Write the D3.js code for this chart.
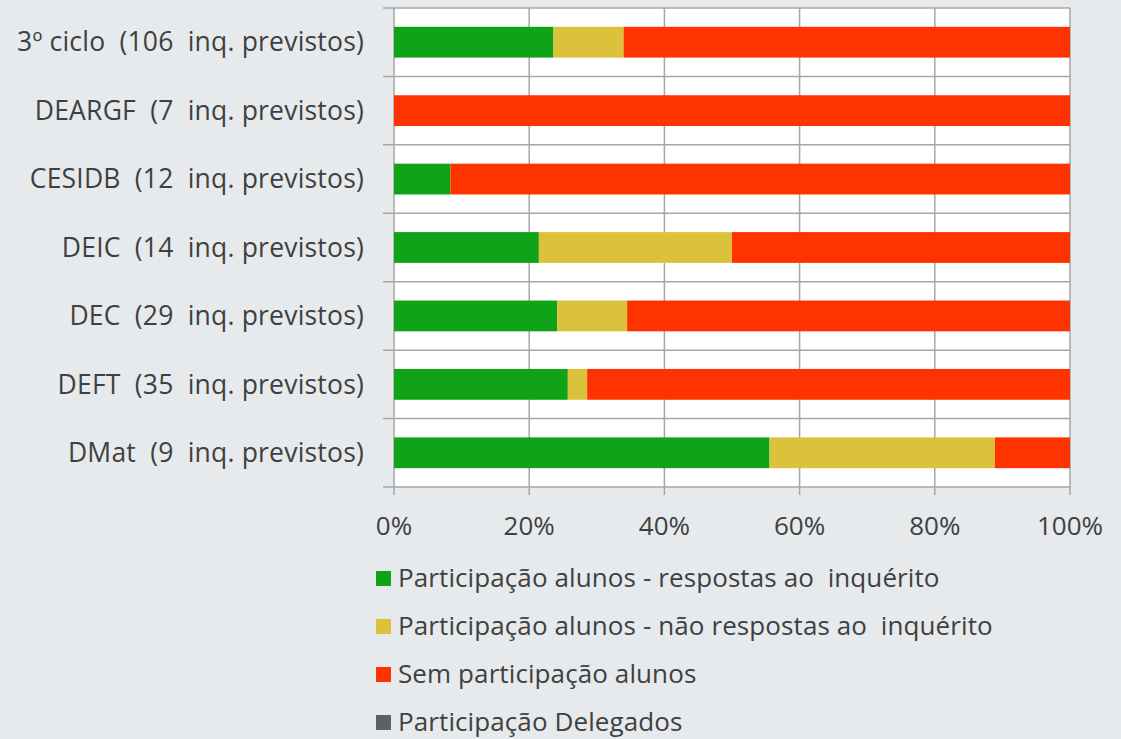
<!DOCTYPE html>
<html><head><meta charset="utf-8">
<script src="https://cdn.jsdelivr.net/npm/d3@7"></script>
<style>
html,body{margin:0;padding:0;background:#e7eaec;}
text{font-family:"Open Sans","Noto Sans",sans-serif;fill:#404040;white-space:pre;}
</style></head><body>
<svg id="c" width="1121" height="739"></svg>
<script>
const categories = ["3º ciclo  (106  inq. previstos)","DEARGF  (7  inq. previstos)","CESIDB  (12  inq. previstos)","DEIC  (14  inq. previstos)","DEC  (29  inq. previstos)","DEFT  (35  inq. previstos)","DMat  (9  inq. previstos)"];
const totals = [106,7,12,14,29,35,9];
const respostas = [25,0,1,3,7,9,5];
const naoRespostas = [11,0,0,4,3,1,3];
const semParticipacao = [70,7,11,7,19,25,1];
const delegados = [0,0,0,0,0,0,0];
const seriesNames = ["Participação alunos - respostas ao  inquérito","Participação alunos - não respostas ao  inquérito","Sem participação alunos","Participação Delegados"];
const seriesColors = ["#10a318","#dbc23a","#ff3300","#606060"];
const tickValues = [0,0.2,0.4,0.6,0.8,1];

const svg = d3.select("#c");
const L=394,R=1070,T=8,B=487;
const x = d3.scaleLinear().domain([0,1]).range([L,R]);
const y = d3.scaleBand().domain(categories).range([T,B]).paddingInner(0.55).paddingOuter(0.275);
const yb = d3.scaleBand().domain(categories).range([T,B]);

const data = categories.map((c,i)=>({cat:c,s0:respostas[i]/totals[i],s1:naoRespostas[i]/totals[i],s2:semParticipacao[i]/totals[i],s3:delegados[i]/totals[i]}));
const stack = d3.stack().keys(["s0","s1","s2","s3"])(data);

svg.append("rect").attr("x",L).attr("y",T).attr("width",R-L).attr("height",B-T).attr("fill","#fff");
const grid = svg.append("g").attr("stroke","#a6a6a6").attr("stroke-width",1.5);
grid.selectAll("line.v").data(tickValues).join("line").attr("x1",d=>x(d)).attr("x2",d=>x(d)).attr("y1",T).attr("y2",B+8);
const bounds = categories.map(c=>yb(c)).concat([B]);
grid.selectAll("line.h").data(bounds).join("line").attr("x1",L-11).attr("x2",R).attr("y1",d=>d).attr("y2",d=>d);

svg.append("g").selectAll("g").data(stack).join("g").attr("fill",(d,i)=>seriesColors[i])
  .selectAll("rect").data(d=>d).join("rect")
  .attr("x",d=>x(d[0])).attr("width",d=>x(d[1])-x(d[0]))
  .attr("y",d=>y(d.data.cat)).attr("height",y.bandwidth());

svg.append("g").selectAll("text").data(categories).join("text")
  .attr("x",364).attr("y",d=>y(d)+y.bandwidth()/2).attr("dy","0.35em")
  .attr("text-anchor","end").attr("font-size",26.5).attr("letter-spacing",0.2).text(d=>d);

svg.append("g").selectAll("text").data(tickValues).join("text")
  .attr("x",d=>x(d)).attr("y",535).attr("text-anchor","middle").attr("font-size",26)
  .text(d=>d3.format(".0%")(d));

const lg = svg.append("g");
seriesNames.forEach((n,i)=>{
  const cy = 578+i*48;
  lg.append("rect").attr("x",376).attr("y",cy-7).attr("width",15).attr("height",15).attr("fill",seriesColors[i]);
  lg.append("text").attr("x",398).attr("y",cy).attr("dy","0.35em").attr("font-size",26).attr("letter-spacing",0.1).text(n);
});
</script></body></html>
